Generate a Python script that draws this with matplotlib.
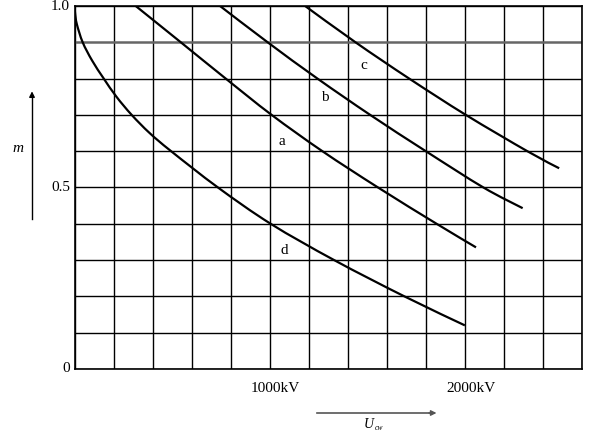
import matplotlib.pyplot as plt
import numpy as np
from matplotlib.path import Path
from matplotlib.patches import PathPatch
from matplotlib.transforms import blended_transform_factory

plt.rcParams['font.family'] = ['Liberation Serif', 'DejaVu Serif']

# curves: U_cw (kV) vs m
a_kv = [314, 545, 775, 1010, 1270, 1555, 1855, 2057]
a_m = [1.0, 0.9, 0.8, 0.7, 0.6, 0.5, 0.4, 0.335]

b_kv = [746, 990, 1245, 1515, 1800, 2095, 2296]
b_m = [1.0, 0.9, 0.8, 0.7, 0.6, 0.5, 0.443]

c_kv = [1182, 1440, 1715, 2005, 2320, 2483]
c_m = [1.0, 0.9, 0.8, 0.7, 0.6, 0.553]

d_kv = [0, 3, 12, 42, 90, 150, 215, 293, 385, 495, 735, 1005, 1330, 1690, 2000]
d_m = [1.0, 0.98, 0.95, 0.9, 0.85, 0.8, 0.75, 0.7, 0.65, 0.6, 0.5, 0.4, 0.3, 0.2, 0.12]

# curve labels: (text, kV, m)
labels = [('a', 1064, 0.628), ('b', 1281, 0.749), ('c', 1481, 0.837), ('d', 1076, 0.325)]

x_grid = np.arange(0, 2601, 200)
y_grid = np.arange(0, 1.001, 0.1)
x_ticklabels = {1000: '1000kV', 2000: '2000kV'}
y_ticklabels = {0.0: '0', 0.5: '0.5', 1.0: '1.0'}


def smooth_path(xs, ys):
    # Catmull-Rom through the read points, drawn as cubic Bezier segments
    p = np.column_stack([xs, ys]).astype(float)
    verts = [p[0]]
    codes = [Path.MOVETO]
    n = len(p)
    for i in range(n - 1):
        p0 = p[i - 1] if i > 0 else p[i]
        p1, p2 = p[i], p[i + 1]
        p3 = p[i + 2] if i + 2 < n else p[i + 1]
        c1 = p1 + (p2 - p0) / 6.0
        c2 = p2 - (p3 - p1) / 6.0
        verts += [c1, c2, p2]
        codes += [Path.CURVE4] * 3
    return Path(verts, codes)


fig = plt.figure(figsize=(5.96, 4.32), dpi=100)
ax = fig.add_axes([0.125, 0.146, 0.8515, 0.840])

for kv, m in [(a_kv, a_m), (b_kv, b_m), (c_kv, c_m), (d_kv, d_m)]:
    ax.add_patch(PathPatch(smooth_path(kv, m), facecolor='none', edgecolor='black',
                           lw=1.6, capstyle='butt', zorder=3))

for t, x, y in labels:
    ax.text(x, y, t, fontsize=11, ha='center', va='center', zorder=4)

ax.set_xlim(0, 2600)
ax.set_ylim(0, 1.0)
ax.set_xticks(x_grid)
ax.set_yticks(y_grid)
ax.set_xticklabels([])
ax.set_yticklabels([])
ax.tick_params(length=0)
ax.grid(True, color='black', lw=1.0)
for g, v in zip(ax.get_ygridlines(), y_grid):
    if abs(v - 0.9) < 1e-6:
        g.set_color('#666666')
        g.set_linewidth(1.8)
for s in ax.spines.values():
    s.set_color('black')
    s.set_linewidth(1.2)

# tick texts
tr = blended_transform_factory(ax.transData, ax.transAxes)
for x, lab in x_ticklabels.items():
    ax.text(x - 95, -0.055, lab, transform=tr, ha='left', va='center', fontsize=11)
tr2 = blended_transform_factory(ax.transAxes, ax.transData)
for y, lab in y_ticklabels.items():
    ax.text(-0.009, y, lab, transform=tr2, ha='right', va='center', fontsize=11)

# axis arrows and names
fig.add_artist(plt.Line2D([0.0537, 0.0537], [0.493, 0.780], color='black', lw=1.0))
ax.annotate('', xy=(0.0537, 0.795), xytext=(0.0537, 0.77), xycoords='figure fraction',
            arrowprops=dict(arrowstyle='-|>', color='black', lw=1.0, mutation_scale=8))
fig.text(0.030, 0.657, 'm', fontsize=11, style='italic', ha='center', va='center')

fig.add_artist(plt.Line2D([0.532, 0.725], [0.044, 0.044], color='#555555', lw=1.2))
ax.annotate('', xy=(0.737, 0.044), xytext=(0.715, 0.044), xycoords='figure fraction',
            arrowprops=dict(arrowstyle='-|>', color='#555555', lw=1.0, mutation_scale=8))
fig.text(0.618, 0.018, 'U', fontsize=10, style='italic', ha='center', va='center')
fig.text(0.629, 0.010, 'cw', fontsize=5.5, style='italic', ha='left', va='center')

fig.savefig('out.png', dpi=100)
